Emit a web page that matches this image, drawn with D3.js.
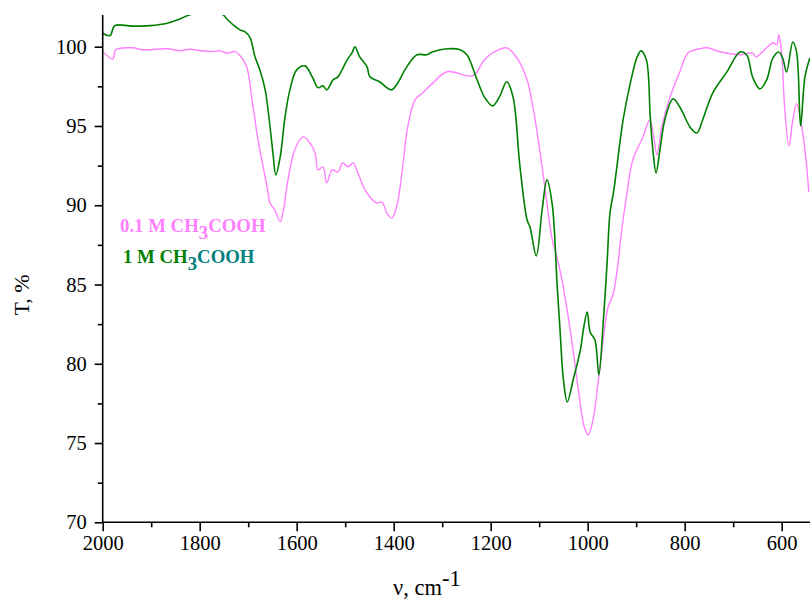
<!DOCTYPE html>
<html><head><meta charset="utf-8">
<script src="https://cdn.jsdelivr.net/npm/d3@7"></script>
<style>body{margin:0;background:#fff}svg{display:block}</style>
</head><body>
<svg id="c" width="810" height="601"></svg>
<script>
// 1 M CH3COOH (green)
const greenWn = [2000,1985,1975,1940,1902,1867,1841,1816,1754,1744,1731,1717,1707,1696,1686,1676,1665,1655,1649,1643,1634,1624,1614,1600,1583,1567,1556,1546,1538,1525,1515,1496,1486,1480,1470,1455,1449,1429,1414,1404,1394,1373,1352,1332,1319,1290,1263,1249,1228,1212,1196,1181,1167,1154,1140,1125,1119,1106,1094,1084,1073,1063,1057,1050,1042,1030,1015,1009,1001,995,985,977,968,960,954,946,927,912,898,890,879,871,865,859,851,841,824,810,789,775,763,742,713,686,672,660,645,631,618,606,598,590,577,569,561,552,542];
const greenT = [100.85,100.70,101.33,101.30,101.33,101.48,101.75,102.05,102.05,101.75,101.38,101.06,100.95,100.56,99.36,98.54,97.28,94.95,93.30,91.91,93.05,95.57,97.28,98.54,98.79,98.04,97.41,97.53,97.28,97.91,98.10,99.17,99.61,99.99,99.36,98.73,98.10,97.79,97.41,97.28,97.60,98.73,99.49,99.49,99.68,99.87,99.81,99.49,97.91,96.78,96.27,96.9,97.79,96.84,92.55,89.07,88.63,86.80,89.70,91.60,90.02,84.97,82.13,78.98,77.59,78.98,80.88,82.13,83.27,82.01,81.50,79.30,82.57,86.36,89.51,90.97,95.38,97.72,99.36,99.74,99.17,95.57,93.30,92.04,93.49,95.38,96.71,96.20,94.94,94.56,95.38,97.09,98.41,99.67,99.48,98.09,97.34,97.91,99.29,99.67,99.29,98.41,100.30,99.61,95.00,98.09,99.29];
// 0.1 M CH3COOH (pink)
const pinkWn = [2000,1979,1973,1938,1917,1867,1841,1820,1799,1773,1758,1744,1727,1713,1703,1692,1682,1672,1661,1655,1645,1634,1628,1618,1604,1587,1573,1562,1556,1546,1538,1527,1515,1505,1494,1484,1474,1459,1449,1435,1424,1414,1404,1394,1383,1371,1356,1340,1319,1290,1236,1216,1202,1196,1167,1146,1125,1113,1098,1084,1073,1063,1053,1036,1020,1007,999,989,978,968,958,948,940,929,919,907,886,872,865,857,847,830,810,793,769,754,727,686,660,653,631,618,610,606,600,594,585,577,569,561,552,544];
const pinkT = [99.69,99.23,99.81,99.93,99.81,99.87,99.75,99.84,99.75,99.69,99.74,99.59,99.69,99.29,98.73,96.65,94.56,92.86,91.15,90.14,89.70,88.95,89.58,91.60,93.49,94.31,93.94,93.30,92.23,92.42,91.41,92.23,92.10,92.67,92.42,92.67,92.04,90.97,90.52,90.14,90.20,89.51,89.19,89.89,92.04,94.95,96.65,97.09,97.72,98.42,98.17,99.05,99.49,99.61,99.93,99.29,97.91,96.21,93.30,90.14,87.80,86.67,85.28,82.13,78.54,76.01,75.51,76.46,78.98,81.50,83.58,84.34,85.72,88.63,90.77,92.86,94.31,95.38,94.56,93.17,94.95,96.84,98.42,99.61,99.87,99.93,99.68,99.49,99.61,99.36,99.93,100.25,100.12,100.75,99.61,96.21,93.75,95.38,96.40,95.38,93.49,90.84];
const xTicks = [2000,1800,1600,1400,1200,1000,800,600];
const yTicks = [70,75,80,85,90,95,100];

const svg = d3.select('#c');
const L = 102.7, R = 810, T = 15, B = 522.3;
const x = d3.scaleLinear().domain([2000, 541.6]).range([L, R]);
const y = d3.scaleLinear().domain([70, 102]).range([B, T]);

svg.append('defs').append('clipPath').attr('id','clip')
  .append('rect').attr('x',L).attr('y',T).attr('width',R-L).attr('height',B-T);

const line = d3.line().x(d=>x(d[0])).y(d=>y(d[1])).curve(d3.curveCatmullRom.alpha(0.5));
const g = svg.append('g').attr('clip-path','url(#clip)');
g.append('path').datum(pinkWn.map((w,i)=>[w,pinkT[i]]))
  .attr('d',line).attr('fill','none').attr('stroke','#ff80ff').attr('stroke-width',1.4);
g.append('path').datum(greenWn.map((w,i)=>[w,greenT[i]]))
  .attr('d',line).attr('fill','none').attr('stroke','#008000').attr('stroke-width',1.6);

const font = '"Liberation Serif","Times New Roman",serif';
// axes
const xAxis = svg.append('g').attr('transform',`translate(0,${B})`)
  .call(d3.axisBottom(x).tickValues(xTicks).tickFormat(d3.format('d')).tickSize(9).tickPadding(4));
const xMinor = svg.append('g').attr('transform',`translate(0,${B})`)
  .call(d3.axisBottom(x).tickValues([1900,1700,1500,1300,1100,900,700]).tickFormat('').tickSize(5));
const yAxis = svg.append('g').attr('transform',`translate(${L},0)`)
  .call(d3.axisLeft(y).tickValues(yTicks).tickSize(8).tickPadding(8));
const yMinor = svg.append('g').attr('transform',`translate(${L},0)`)
  .call(d3.axisLeft(y).tickValues([72.5,77.5,82.5,87.5,92.5,97.5]).tickFormat('').tickSize(5));
svg.selectAll('.domain').attr('stroke','#000').attr('stroke-width',1.6);
xMinor.select('.domain').remove(); yMinor.select('.domain').remove();
xAxis.select('.domain').attr('d',`M${L},0H${R}`);
yAxis.select('.domain').attr('d',`M0,${T}V${B}`);
svg.selectAll('.tick line').attr('stroke','#000').attr('stroke-width',1.6);
svg.selectAll('.tick text').attr('font-family',font).attr('font-size',20.5).attr('fill','#000');

// axis titles
svg.append('text').attr('transform','translate(29,295) rotate(-90)').attr('text-anchor','middle')
  .attr('font-family',font).attr('font-size',22).text('T, %');
const xl = svg.append('text').attr('x',393).attr('y',595).attr('font-family',font).attr('font-size',22.5);
xl.append('tspan').text('ν, cm');
xl.append('tspan').attr('dy',-9).text('-1');

// legend labels
const l1 = svg.append('text').attr('x',120).attr('y',232).attr('font-family',font).attr('font-size',18.8).attr('font-weight','bold').attr('fill','#ff80ff');
l1.append('tspan').text('0.1 M CH');
l1.append('tspan').attr('dy',7).text('3');
l1.append('tspan').attr('dy',-7).text('COOH');
const l2 = svg.append('text').attr('x',123).attr('y',262.5).attr('font-family',font).attr('font-size',18.8).attr('font-weight','bold');
l2.append('tspan').attr('fill','#008000').text('1 M CH');
l2.append('tspan').attr('dy',7).attr('fill','#008080').text('3');
l2.append('tspan').attr('dy',-7).attr('fill','#008080').text('COOH');
</script>
</body></html>
